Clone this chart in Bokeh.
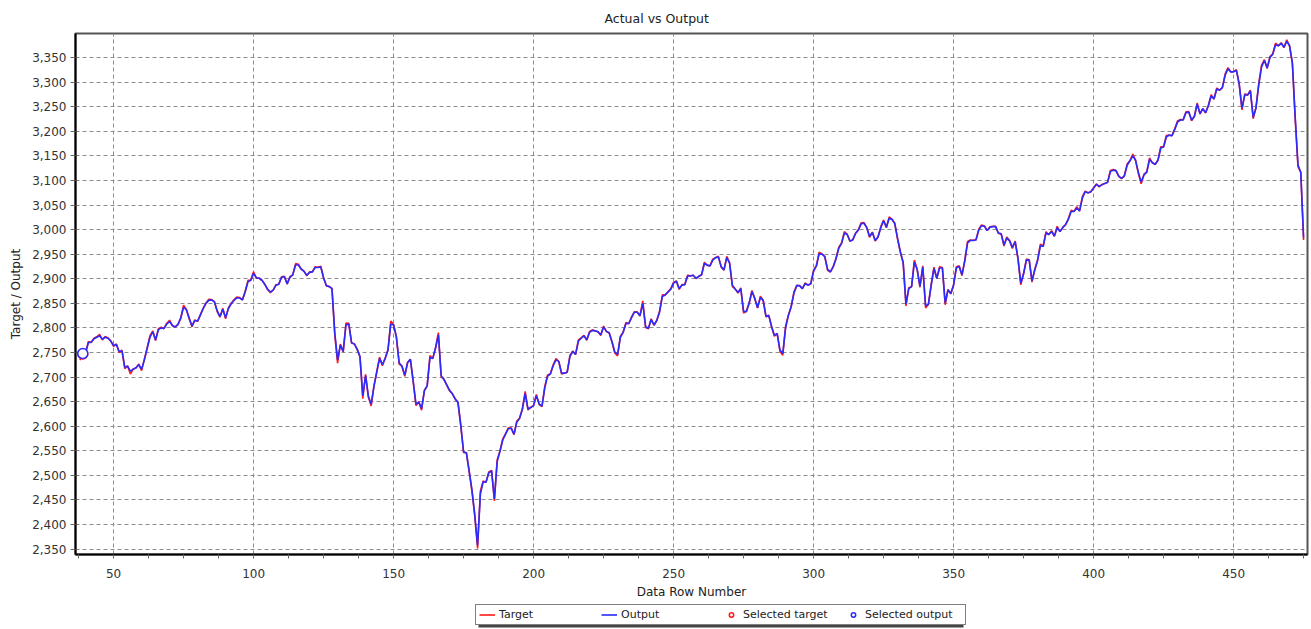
from bokeh.plotting import figure
from bokeh.layouts import column
from bokeh.models import (Range1d, NumeralTickFormatter, FixedTicker, Legend,
                          LegendItem, ColumnDataSource)
from bokeh.embed import file_html
from bokeh.resources import INLINE

# ---------------- data ----------------
first_row = 38

target_2018 = [
    2734.62, 2746.87, 2748.80, 2772.35, 2770.37, 2779.03, 2782.00, 2786.85, 2775.63, 2782.49, 2779.66, 2773.75, 2762.59, 2767.32, 2749.76, 2754.88, 2717.07, 2723.06, 2706.00, 2716.31, 2718.37,
    2726.71, 2713.22, 2736.61, 2759.82, 2784.17, 2793.84, 2774.02, 2798.29, 2801.31, 2798.43, 2809.55, 2815.62, 2804.49, 2801.83, 2806.98, 2820.40, 2846.07, 2837.44, 2818.82, 2802.60, 2816.29,
    2813.36, 2827.22, 2840.35, 2850.40, 2858.45, 2857.70, 2853.58, 2833.28, 2821.93, 2839.96, 2818.37, 2840.69, 2850.13, 2857.05, 2862.96, 2861.82, 2856.98, 2874.69, 2896.74, 2897.52, 2914.04, 2901.13, 2901.52,
    2896.72, 2888.60, 2878.05, 2871.68, 2877.13, 2887.89, 2888.92, 2904.18, 2904.98, 2888.80, 2904.31, 2907.95, 2930.75, 2929.67, 2919.37, 2915.56, 2905.97, 2914.00, 2913.98,
    2924.59, 2923.43, 2925.51, 2901.61, 2885.57, 2884.43, 2880.34, 2785.68, 2728.37, 2767.13, 2750.79, 2809.92, 2809.21, 2768.78, 2767.78, 2755.88, 2740.69, 2656.10, 2705.57, 2658.69, 2641.25, 2682.63, 2711.74,
    2740.37, 2723.06, 2738.31, 2755.45, 2813.89, 2806.83, 2781.01, 2726.22, 2722.18, 2701.58, 2730.20, 2736.27, 2690.73, 2641.89, 2649.93, 2632.56, 2673.45, 2682.17, 2743.79, 2737.80, 2760.17,
    2790.37, 2700.06, 2695.95, 2683.00, 2672.00, 2666.00, 2656.00, 2648.00, 2599.95, 2545.94, 2546.16, 2506.96, 2467.42, 2416.62, 2351.10, 2467.70, 2488.83, 2485.74, 2506.85,
]
target_2019 = [
    2510.03, 2447.89, 2531.94, 2549.69, 2574.41, 2584.96, 2596.64, 2596.26, 2582.61, 2610.30, 2616.10, 2635.96, 2670.71, 2632.90, 2638.70, 2642.33, 2664.76, 2643.85, 2640.00, 2681.05, 2704.10,
    2706.53, 2724.87, 2737.70, 2731.61, 2706.05, 2707.88, 2709.80, 2744.73, 2753.03, 2745.73, 2775.60, 2779.76, 2784.70, 2774.88, 2792.67, 2796.11, 2793.90, 2792.38, 2784.49,
    2803.69, 2792.81, 2789.65, 2771.45, 2748.93, 2743.07, 2783.30, 2791.52, 2810.92, 2808.48, 2822.48, 2832.94, 2832.57, 2824.23, 2854.88, 2800.71, 2798.36, 2818.46, 2805.37, 2815.44, 2834.40,
    2867.19, 2867.24, 2873.40, 2879.39, 2892.74, 2895.77, 2878.20, 2888.21, 2888.32, 2907.41, 2905.58, 2907.06, 2900.45, 2905.03, 2907.97, 2933.68, 2927.25, 2926.17, 2939.88, 2943.03, 2945.83,
    2923.73, 2917.52, 2945.64, 2932.47, 2884.05, 2879.42, 2870.72, 2881.40, 2830.00, 2834.41, 2850.96, 2876.32, 2859.53, 2840.23, 2864.36, 2856.27, 2822.24, 2826.06, 2802.39, 2783.02, 2788.86, 2752.06,
    2744.45, 2803.27, 2826.15, 2843.49, 2873.34, 2886.73, 2885.72, 2879.84, 2891.64, 2886.98, 2889.67, 2917.75, 2926.46, 2954.18, 2950.46, 2945.35, 2917.38, 2913.78, 2924.92, 2941.76,
    2964.33, 2973.01, 2995.82, 2990.41, 2975.95, 2979.63, 2993.07, 2999.91, 3013.77, 3014.30, 3004.04, 2984.42, 2995.11, 2976.61, 2985.03, 3005.47, 3019.56, 3003.67, 3025.86, 3020.97, 3013.18, 2980.38,
    2953.56, 2932.05, 2844.74, 2881.77, 2883.98, 2938.09, 2918.65, 2882.70, 2926.32, 2840.60, 2847.60, 2888.68, 2923.65, 2900.51, 2924.43, 2922.95, 2847.11, 2878.38, 2869.16, 2887.94, 2924.58, 2926.46,
    2906.27, 2937.78, 2976.00, 2978.71, 2978.43, 2979.39, 3000.93, 3009.57, 3007.39, 2997.96, 3005.70, 3006.73, 3006.79, 2992.07, 2991.78, 2966.60, 2984.87, 2977.62, 2961.79, 2976.74,
    2940.25, 2887.61, 2910.63, 2940.00, 2938.79, 2893.06, 2919.40, 2938.13, 2970.27, 2966.15, 2995.68, 2989.69, 2997.95, 2986.20, 3006.72, 2995.99, 3004.52, 3010.29, 3022.55, 3039.42, 3036.89, 3046.77, 3037.56,
    3066.91, 3078.27, 3074.62, 3076.78, 3085.18, 3093.08, 3087.01, 3091.84, 3094.04, 3096.63, 3120.46, 3122.03, 3120.18, 3108.46, 3103.54, 3110.29, 3133.64, 3140.52, 3153.63, 3140.98,
    3113.87, 3093.20, 3112.76, 3117.43, 3145.91, 3135.96, 3132.52, 3141.63, 3168.57, 3168.80, 3191.45, 3192.52, 3191.14, 3205.37, 3221.22, 3224.01, 3223.38, 3239.91, 3240.02, 3221.29, 3230.78,
]
target_2020 = [
    3257.85, 3234.85, 3246.28, 3237.18, 3253.05, 3274.70, 3265.35, 3288.13, 3283.15, 3289.29, 3316.81, 3329.62, 3320.79, 3321.75, 3325.54, 3295.47, 3243.63, 3276.24, 3273.40, 3283.66, 3225.52,
    3248.92, 3297.59, 3334.69, 3345.78, 3327.71, 3352.09, 3357.75, 3379.45, 3373.94, 3380.16, 3370.29, 3386.15, 3373.23, 3337.75, 3225.89, 3128.21, 3116.39, 2978.76,
]

output_2018 = [
    2745, 2748, 2750, 2770, 2771, 2778, 2781, 2784, 2777, 2781, 2779, 2773, 2764, 2766, 2752, 2753, 2720, 2722, 2712, 2716, 2719,
    2725, 2716, 2735, 2758, 2781, 2792, 2776, 2796, 2800, 2799, 2808, 2813, 2805, 2802, 2807, 2820, 2842, 2837, 2820, 2804, 2815,
    2814, 2826, 2839, 2850, 2856, 2857, 2853, 2835, 2823, 2838, 2821, 2839, 2849, 2856, 2861, 2861, 2857, 2873, 2894, 2897, 2911, 2902, 2901,
    2897, 2889, 2879, 2873, 2877, 2887, 2889, 2903, 2904, 2890, 2903, 2908, 2928, 2928, 2920, 2915, 2907, 2913, 2914,
    2923, 2923, 2924, 2902, 2886, 2884, 2880, 2790, 2735, 2765, 2752, 2806, 2808, 2770, 2767, 2757, 2742, 2662, 2703, 2661, 2645, 2681, 2710,
    2738, 2725, 2738, 2755, 2808, 2806, 2782, 2729, 2722, 2704, 2729, 2736, 2692, 2645, 2649, 2636, 2672, 2682, 2740, 2738, 2759,
    2786, 2703, 2695, 2684, 2673, 2666, 2655, 2649, 2603, 2548, 2546, 2509, 2470, 2420, 2358, 2462, 2487, 2486, 2505,
]
output_2019 = [
    2509, 2452, 2528, 2549, 2572, 2584, 2595, 2596, 2584, 2608, 2616, 2634, 2667, 2635, 2638, 2642, 2662, 2645, 2641, 2678, 2702,
    2706, 2723, 2735, 2732, 2708, 2708, 2710, 2742, 2752, 2746, 2773, 2779, 2784, 2776, 2791, 2795, 2794, 2792, 2786,
    2802, 2793, 2790, 2772, 2751, 2746, 2781, 2791, 2809, 2809, 2821, 2832, 2832, 2825, 2850, 2803, 2799, 2817, 2806, 2815, 2832,
    2864, 2867, 2873, 2879, 2891, 2895, 2880, 2887, 2888, 2905, 2906, 2907, 2901, 2905, 2908, 2931, 2928, 2926, 2938, 2943, 2944,
    2925, 2918, 2943, 2932, 2887, 2879, 2872, 2880, 2834, 2833, 2850, 2874, 2860, 2841, 2862, 2856, 2824, 2825, 2803, 2785, 2788, 2755,
    2748, 2800, 2825, 2843, 2871, 2886, 2886, 2880, 2890, 2887, 2890, 2915, 2926, 2951, 2950, 2945, 2919, 2914, 2924, 2940,
    2962, 2972, 2993, 2990, 2977, 2979, 2992, 2999, 3012, 3013, 3004, 2986, 2994, 2978, 2985, 3004, 3018, 3005, 3023, 3021, 3012, 2982,
    2955, 2933, 2849, 2880, 2884, 2934, 2919, 2885, 2924, 2845, 2848, 2886, 2921, 2901, 2922, 2922, 2851, 2877, 2870, 2887, 2922, 2925,
    2908, 2936, 2973, 2978, 2978, 2979, 2999, 3008, 3007, 2998, 3005, 3006, 3006, 2993, 2991, 2969, 2983, 2977, 2964, 2975,
    2942, 2891, 2910, 2938, 2938, 2896, 2918, 2937, 2967, 2966, 2993, 2990, 2996, 2987, 3004, 2996, 3004, 3010, 3021, 3037, 3037, 3044, 3038,
    3064, 3077, 3075, 3077, 3084, 3092, 3088, 3091, 3094, 3096, 3118, 3121, 3120, 3109, 3104, 3109, 3131, 3140, 3150, 3141,
    3116, 3097, 3111, 3117, 3143, 3136, 3133, 3141, 3166, 3168, 3189, 3192, 3191, 3204, 3219, 3223, 3223, 3238, 3239, 3223, 3230,
]
output_2020 = [
    3255, 3236, 3246, 3238, 3252, 3272, 3266, 3286, 3284, 3289, 3314, 3327, 3321, 3321, 3324, 3297, 3247, 3274, 3274, 3282, 3229,
    3247, 3295, 3331, 3344, 3329, 3350, 3357, 3376, 3374, 3379, 3371, 3383, 3374, 3339, 3230, 3132, 3116, 2984,
]

selected_rows = [39]
selected_target = [2746.87]
selected_output = [2748]

x_ticks = [50, 100, 150, 200, 250, 300, 350, 400, 450]
x_minor_ticks = [37.5, 62.5, 75, 87.5, 112.5, 125, 137.5, 162.5, 175, 187.5, 212.5, 225, 237.5,
                 262.5, 275, 287.5, 312.5, 325, 337.5, 362.5, 375, 387.5, 412.5, 425, 437.5,
                 462.5, 475]
y_ticks = [2350, 2400, 2450, 2500, 2550, 2600, 2650, 2700, 2750, 2800, 2850, 2900,
           2950, 3000, 3050, 3100, 3150, 3200, 3250, 3300, 3350]
legend_labels = ["Target", "Output", "Selected target", "Selected output"]

target = target_2018 + target_2019 + target_2020
output = output_2018 + output_2019 + output_2020
rows_t = list(range(first_row, first_row + len(target)))
rows_o = list(range(first_row, first_row + len(output)))

src_t = ColumnDataSource(dict(x=rows_t, y=target))
src_o = ColumnDataSource(dict(x=rows_o, y=output))

# ---------------- styles ----------------
FONT = "DejaVu Sans"
RED = "#ff1a1a"
BLUE = "#2b2bff"
W = 1311
FRAME_W = 1232   # frame width (75 .. 1307)

# ---------------- main figure ----------------
p = figure(width=W, height=602, output_backend="svg", toolbar_location=None,
           x_range=Range1d(36.4, 476.4), y_range=Range1d(2339, 3399),
           title="Actual vs Output",
           min_border_left=75, min_border_right=4, min_border_top=33, min_border_bottom=48)

p.title.align = "left"
p.title.offset = 529
p.title.vertical_align = "top"
p.title.standoff = 12
p.title.text_font = FONT
p.title.text_font_size = "12.5px"
p.title.text_font_style = "normal"
p.title.text_color = "#222222"

p.outline_line_color = "#555555"
p.outline_line_width = 2

r_t = p.line("x", "y", source=src_t, line_color=RED, line_width=1.6)
r_o = p.line("x", "y", source=src_o, line_color=BLUE, line_width=1.6)
p.scatter(selected_rows, selected_target, marker="circle", size=10,
          line_color=RED, fill_color="white", line_width=1.5)
p.scatter(selected_rows, selected_output, marker="circle", size=10,
          line_color=BLUE, fill_color="white", line_width=1.5)

for ax in (p.xaxis, p.yaxis):
    ax.axis_line_color = "black"
    ax.axis_line_width = 2
    ax.major_tick_line_color = "#666666"
    ax.minor_tick_line_color = "#666666"
    ax.major_label_text_font = FONT
    ax.major_label_text_font_size = "12px"
    ax.major_label_text_color = "#333333"
    ax.axis_label_text_font = FONT
    ax.axis_label_text_font_size = "12px"
    ax.axis_label_text_font_style = "normal"
    ax.axis_label_text_color = "#222222"

p.xaxis.ticker = FixedTicker(ticks=x_ticks, minor_ticks=x_minor_ticks)
p.xaxis.major_tick_out = 4
p.xaxis.major_tick_in = 0
p.xaxis.minor_tick_out = 4
p.xaxis.minor_tick_in = 0
p.xaxis.major_label_standoff = 10
p.xaxis.axis_label = "Data Row Number"
p.xaxis.axis_label_standoff = 4

p.yaxis.ticker = FixedTicker(ticks=y_ticks)
p.yaxis.formatter = NumeralTickFormatter(format="0,0")
p.yaxis.major_tick_out = 5
p.yaxis.major_tick_in = 0
p.yaxis.minor_tick_line_color = None
p.yaxis.major_label_standoff = 4
p.yaxis.axis_label = "Target / Output"
p.yaxis.axis_label_standoff = 6

for g in (p.xgrid, p.ygrid):
    g.grid_line_color = "#8c8c8c"
    g.grid_line_dash = "4 3"
    g.grid_line_width = 1

# ---------------- legend strip (frame aligned with the main frame) ----------------
LH = 27
pl = figure(width=W, height=LH, output_backend="svg", toolbar_location=None,
            x_range=Range1d(0, FRAME_W), y_range=Range1d(0, LH),
            x_axis_type=None, y_axis_type=None,
            min_border_left=0, min_border_right=0, min_border_top=0, min_border_bottom=0)
pl.outline_line_color = None

# drop shadow behind the legend box
pl.quad(left=[403], right=[888], bottom=[2], top=[19], fill_color="#444444", line_color=None)

# legend sample renderers (their points lie outside the strip's visible range)
l_t = pl.line([-50, -40], [-50, -50], line_color=RED, line_width=1.6)
l_o = pl.line([-50, -40], [-50, -50], line_color=BLUE, line_width=1.6)
l_st = pl.scatter([-50], [-50], marker="circle", size=10, line_color=RED,
                  fill_color="white", line_width=1.5)
l_so = pl.scatter([-50], [-50], marker="circle", size=10, line_color=BLUE,
                  fill_color="white", line_width=1.5)

legend = Legend(items=[
    LegendItem(label=legend_labels[0], renderers=[l_t]),
    LegendItem(label=legend_labels[1], renderers=[l_o]),
    LegendItem(label=legend_labels[2], renderers=[l_st]),
    LegendItem(label=legend_labels[3], renderers=[l_so]),
], orientation="horizontal", location=(400, 4))
legend.label_text_font = FONT
legend.label_text_font_size = "11px"
legend.label_text_color = "#222222"
legend.glyph_width = 16
legend.glyph_height = 11
legend.label_height = 11
legend.label_standoff = 4
legend.label_width = 97
legend.spacing = 5
legend.padding = 3
legend.margin = 0
legend.border_line_color = "black"
legend.border_line_width = 1
legend.background_fill_color = "white"
legend.background_fill_alpha = 1
pl.add_layout(legend, "center")

layout = column(p, pl, spacing=0)
open("out.html", "w").write(file_html(layout, INLINE))
